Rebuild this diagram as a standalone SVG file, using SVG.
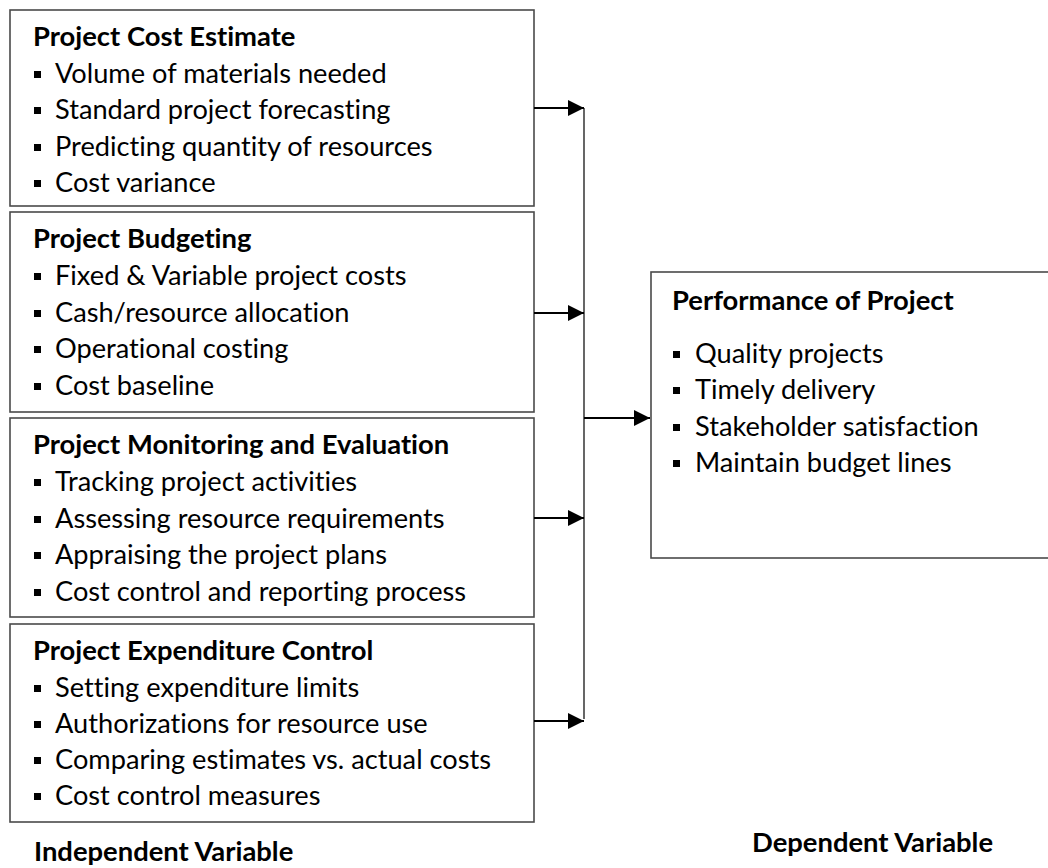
<svg xmlns="http://www.w3.org/2000/svg" width="1048" height="868" viewBox="0 0 1048 868">
  <style>
    .box { fill: #ffffff; stroke: #4a4a4a; stroke-width: 1.6; }
    text { font-variant-ligatures: none; font-feature-settings: "liga" 0, "clig" 0; }
    .title { font-family: Lato, "Open Sans", sans-serif; font-size: 27.4px; font-weight: bold; fill: #000; }
    .item { font-family: Lato, "Open Sans", sans-serif; font-size: 27.2px; fill: #000; }
    .label { font-family: Lato, "Open Sans", sans-serif; font-size: 27.4px; font-weight: bold; fill: #000; }
    .bullet { fill: #000; }
    .arrow { stroke: #000; stroke-width: 2; fill: none; marker-end: url(#head); }
    .trunk { stroke: #000; stroke-width: 1.2; fill: none; }
  </style>
  <defs>
    <marker id="head" viewBox="0 0 16 16" refX="16" refY="8" markerWidth="16" markerHeight="16" markerUnits="userSpaceOnUse" orient="auto">
      <path d="M0,0 L16,8 L0,16 Z" fill="#000"/>
    </marker>
  </defs>

  <rect width="1048" height="868" fill="#ffffff"/>

  <!-- Independent variable boxes -->
  <g id="cost-estimate">
    <rect class="box" x="10" y="10" width="524" height="196"/>
    <text class="title" x="33" y="46">Project Cost Estimate</text>
    <rect class="bullet" x="34" y="71" width="7" height="7"/>
    <text class="item" x="55" y="83">Volume of materials needed</text>
    <rect class="bullet" x="34" y="107" width="7" height="7"/>
    <text class="item" x="55" y="119">Standard project forecasting</text>
    <rect class="bullet" x="34" y="144" width="7" height="7"/>
    <text class="item" x="55" y="156">Predicting quantity of resources</text>
    <rect class="bullet" x="34" y="180" width="7" height="7"/>
    <text class="item" x="55" y="192">Cost variance</text>
  </g>

  <g id="budgeting">
    <rect class="box" x="10" y="212" width="524" height="200"/>
    <text class="title" x="33" y="248">Project Budgeting</text>
    <rect class="bullet" x="34" y="273" width="7" height="7"/>
    <text class="item" x="55" y="285">Fixed &amp; Variable project costs</text>
    <rect class="bullet" x="34" y="310" width="7" height="7"/>
    <text class="item" x="55" y="322">Cash/resource allocation</text>
    <rect class="bullet" x="34" y="346" width="7" height="7"/>
    <text class="item" x="55" y="358">Operational costing</text>
    <rect class="bullet" x="34" y="383" width="7" height="7"/>
    <text class="item" x="55" y="395">Cost baseline</text>
  </g>

  <g id="monitoring">
    <rect class="box" x="10" y="418" width="524" height="199"/>
    <text class="title" x="33" y="454">Project Monitoring and Evaluation</text>
    <rect class="bullet" x="34" y="479" width="7" height="7"/>
    <text class="item" x="55" y="491">Tracking project activities</text>
    <rect class="bullet" x="34" y="516" width="7" height="7"/>
    <text class="item" x="55" y="528">Assessing resource requirements</text>
    <rect class="bullet" x="34" y="552" width="7" height="7"/>
    <text class="item" x="55" y="564">Appraising the project plans</text>
    <rect class="bullet" x="34" y="589" width="7" height="7"/>
    <text class="item" x="55" y="601">Cost control and reporting process</text>
  </g>

  <g id="expenditure">
    <rect class="box" x="10" y="624" width="524" height="198"/>
    <text class="title" x="33" y="660">Project Expenditure Control</text>
    <rect class="bullet" x="34" y="685" width="7" height="7"/>
    <text class="item" x="55" y="697">Setting expenditure limits</text>
    <rect class="bullet" x="34" y="721" width="7" height="7"/>
    <text class="item" x="55" y="733">Authorizations for resource use</text>
    <rect class="bullet" x="34" y="757" width="7" height="7"/>
    <text class="item" x="55" y="769">Comparing estimates vs. actual costs</text>
    <rect class="bullet" x="34" y="793" width="7" height="7"/>
    <text class="item" x="55" y="805">Cost control measures</text>
  </g>

  <!-- Dependent variable box (runs past the right edge) -->
  <g id="performance">
    <rect class="box" x="651" y="272" width="420" height="286"/>
    <text class="title" x="672" y="310">Performance of Project</text>
    <rect class="bullet" x="673" y="351" width="7" height="7"/>
    <text class="item" x="695" y="363">Quality projects</text>
    <rect class="bullet" x="673" y="387" width="7" height="7"/>
    <text class="item" x="695" y="399">Timely delivery</text>
    <rect class="bullet" x="673" y="424" width="7" height="7"/>
    <text class="item" x="695" y="436">Stakeholder satisfaction</text>
    <rect class="bullet" x="673" y="460" width="7" height="7"/>
    <text class="item" x="695" y="472">Maintain budget lines</text>
  </g>

  <!-- Connectors -->
  <g id="connectors">
    <line class="arrow" x1="534" y1="108" x2="584" y2="108"/>
    <line class="arrow" x1="534" y1="313" x2="584" y2="313"/>
    <line class="arrow" x1="534" y1="518" x2="584" y2="518"/>
    <line class="arrow" x1="534" y1="721" x2="584" y2="721"/>
    <line class="trunk" x1="584" y1="108" x2="584" y2="719"/>
    <line class="arrow" x1="584" y1="418" x2="650" y2="418"/>
  </g>

  <!-- Axis labels -->
  <g id="labels">
    <text class="label" x="34" y="861">Independent Variable</text>
    <text class="label" x="752" y="852">Dependent Variable</text>
  </g>
</svg>
